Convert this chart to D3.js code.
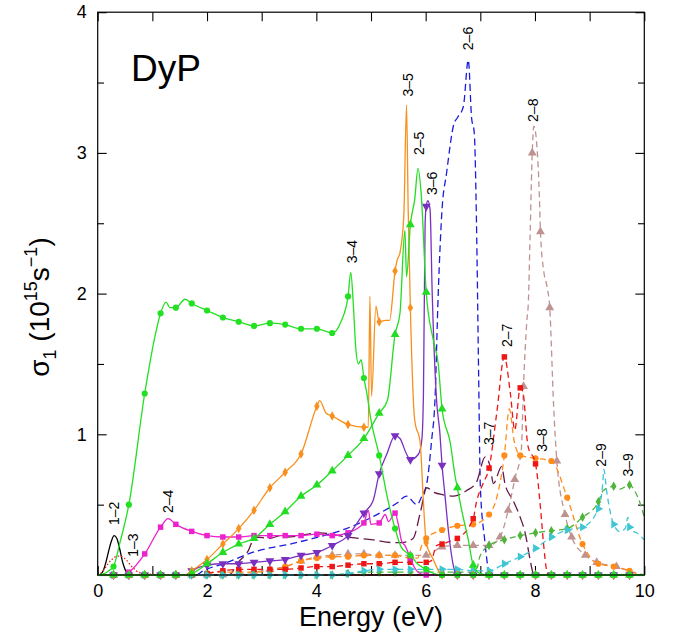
<!DOCTYPE html>
<html><head><meta charset="utf-8">
<script src="https://cdn.jsdelivr.net/npm/d3@7"></script>
<style>body{margin:0;background:#fff}svg{display:block}</style>
</head><body>
<svg id="chart" width="673" height="635"></svg>
<script>
// ---- DATA ----
// shared energy grid of the plotted symbols (eV)
const markX = [0.29,0.57,0.86,1.15,1.43,1.72,2.0,2.29,2.58,2.86,3.15,3.43,3.72,4.01,4.29,4.58,4.87,5.15,5.44,5.72,6.01,6.3,6.58,6.87,7.16,7.44,7.73,8.01,8.3,8.59,8.87,9.16,9.44,9.73];

// 1-2 (no symbols)
const s12_line = [[0,0],[0.05,0.005],[0.1,0.03],[0.15,0.09],[0.2,0.17],[0.25,0.24],[0.3,0.28],[0.35,0.26],[0.4,0.19],[0.45,0.10],[0.5,0.04],[0.55,0.01],[0.62,0],[10,0]];
// 1-3 (no symbols)
const s13_line = [[0,0],[0.05,0.01],[0.12,0.04],[0.19,0.08],[0.26,0.11],[0.33,0.13],[0.41,0.135],[0.47,0.125],[0.53,0.105],[0.58,0.08],[0.62,0.06],[0.68,0.04],[0.74,0.02],[0.85,0.01],[1.0,0.005],[1.3,0],[10,0]];
// 3-4
const s34_marks = [0.06,0.50,1.29,1.86,1.90,1.93,1.88,1.83,1.80,1.77,1.79,1.78,1.75,1.75,1.72,1.98,1.40,0.85,0.33,0.14,0.04,0,0,0,0,0,0,0,0,0,0,0,0,0];
const s34_line = [[0,0],[0.12,0.01],[0.2,0.03],[0.4,0.22],[1.05,1.70],[1.25,1.94],[1.32,1.90],[1.6,1.96],[4.45,1.80],[4.63,2.15],[4.68,1.90],[4.72,1.62],[4.77,1.50],[4.82,1.53],[4.92,1.30],[5.0,1.10],[5.3,0.55],[5.55,0.20],[5.65,0.16],[5.85,0.08],[6.15,0.01],[10,0]];
// 2-4
const s24_marks = [0,0.02,0.15,0.34,0.36,0.31,0.28,0.27,0.27,0.28,0.28,0.28,0.28,0.29,0.28,0.30,0.37,0.37,0.44,0.12,0,0,0,0,0,0,0,0,0,0,0,0,0,0];
const s24_line = [[0,0],[0.45,0],[1.29,0.40],[4.95,0.46],[5.0,0.36],[5.26,0.43],[5.32,0.38],[5.5,0.36],[5.56,0.24],[5.62,0.21],[5.8,0.05],[5.9,0.01],[10,0]];
// 3-5
const s35_marks = [0,0,0,0,0,0.03,0.11,0.22,0.33,0.46,0.62,0.73,0.86,1.20,1.13,1.07,1.05,1.80,2.16,1.90,0.23,0,0,0,0,0,0,0,0,0,0,0,0,0];
const s35_line = [[0,0],[1.6,0],[4.06,1.24],[4.18,1.15],[4.95,1.05],[4.98,1.98],[5.01,1.27],[5.09,1.91],[5.26,1.81],[5.34,1.81],[5.48,2.24],[5.53,2.29],[5.6,2.55],[5.65,3.34],[5.68,2.6],[5.8,1.10],[5.9,0.94],[5.96,0.51],[6.14,0.11],[6.22,0.04],[10,0]];
// 2-5
const s25_marks = [0,0,0,0,0,0.01,0.08,0.16,0.22,0.26,0.36,0.45,0.56,0.64,0.74,0.85,0.97,1.15,1.71,2.49,2.01,1.18,0.62,0.07,0,0,0,0,0,0,0,0,0,0];
const s25_line = [[0,0],[1.6,0],[5.3,1.24],[5.53,1.86],[5.62,2.45],[5.65,2.12],[5.8,2.67],[5.86,2.89],[5.92,2.7],[6.14,1.67],[6.23,1.50],[6.45,0.94],[6.54,0.70],[6.66,0.46],[6.78,0.25],[7.0,0.01],[10,0]];
// 3-6
const s36_marks = [0,0,0,0,0,0.03,0.07,0.08,0.08,0.09,0.10,0.11,0.14,0.16,0.21,0.28,0.44,0.72,0.99,0.82,2.62,0.78,0,0,0,0,0,0,0,0,0,0,0,0];
const s36_line = [[0,0],[1.6,0],[4.8,0.40],[5.04,0.53],[5.29,0.86],[5.53,0.97],[5.65,0.86],[5.87,0.86],[5.93,0.96],[5.96,1.30],[5.99,2.5],[6.04,2.66],[6.08,2.6],[6.12,2.0],[6.2,1.24],[6.26,1.01],[6.35,0.58],[6.42,0.30],[6.51,0.06],[6.56,0],[10,0]];
// 2-6 (no symbols)
const s26_line = [[0,0],[1.8,0],[1.93,0.03],[2.3,0.08],[2.91,0.17],[3.52,0.22],[3.94,0.26],[4.55,0.33],[5.16,0.44],[5.47,0.51],[5.65,0.56],[5.84,0.50],[5.93,0.56],[6.02,0.65],[6.11,0.96],[6.17,1.24],[6.23,2.0],[6.3,2.6],[6.38,2.85],[6.52,3.21],[6.58,3.25],[6.69,3.33],[6.78,3.66],[6.84,3.25],[6.89,3.14],[6.93,2.5],[6.97,1.4],[7.0,0.63],[7.08,0.25],[7.16,0.02],[7.2,0],[10,0]];
// 3-7 (no symbols)
const s37_line = [[0,0],[2.4,0],[2.57,0.09],[2.75,0.17],[2.88,0.27],[3.15,0.26],[3.34,0.28],[3.46,0.27],[4.07,0.30],[4.55,0.27],[5.04,0.25],[5.41,0.23],[5.56,0.23],[5.77,0.26],[5.90,0.44],[6.02,0.62],[6.14,0.59],[6.32,0.57],[6.51,0.56],[6.75,0.60],[6.93,0.66],[7.09,0.84],[7.18,0.77],[7.24,0.65],[7.39,0.77],[7.45,0.65],[7.60,0.53],[7.73,0.41],[7.82,0.30],[7.91,0.11],[7.96,0.02],[8.0,0],[10,0]];
// 2-7
const s27_marks = [0,0,0,0,0,0,0.01,0.03,0.04,0.04,0.04,0.04,0.05,0.06,0.06,0.07,0.08,0.08,0.09,0.09,0.09,0.22,0.26,0.40,0.76,1.55,1.33,0.79,0,0,0,0,0,0];
const s27_line = [[0,0],[1.9,0],[6.1,0.10],[6.2,0.21],[6.45,0.24],[6.93,0.52],[7.05,0.65],[7.3,1.15],[7.55,1.29],[7.63,1.03],[7.78,1.30],[7.87,0.92],[8.1,0.48],[8.15,0.25],[8.22,0.02],[8.25,0],[10,0]];
// 3-8
const s38_marks = [0,0,0,0,0,0,0.01,0.02,0.02,0.02,0.03,0.06,0.10,0.12,0.13,0.13,0.14,0.14,0.14,0.12,0.26,0.32,0.35,0.36,0.43,0.85,0.85,0.83,0.81,0.55,0.22,0.08,0.06,0.03];
const s38_line = [[0,0],[1.9,0],[5.85,0.12],[5.92,0.20],[7.3,0.55],[7.53,1.18],[7.62,0.95],[9.85,0.01],[10,0]];
// 2-8
const s28_marks = [0,0,0,0,0,0,0,0,0.01,0.02,0.04,0.06,0.10,0.13,0.14,0.15,0.15,0.14,0.14,0.14,0.14,0.20,0.21,0.21,0.21,null,null,null,null,null,null,null,null,null];
const s28_extraMarks = [[7.36,0.27],[7.51,0.46],[7.63,0.68],[7.79,1.34],[7.95,3.0],[8.10,2.44],[8.27,1.90],[8.40,0.81],[8.55,0.43],[8.67,0.27],[8.92,0.14],[9.13,0.09],[9.49,0.06]];
const s28_line = [[0,0],[2.3,0],[7.75,0.89],[7.85,1.8],[7.88,1.95],[7.91,2.4],[7.98,3.19],[8.04,3.02],[8.08,2.7],[8.16,2.16],[8.22,2.05],[8.34,1.21],[9.7,0.03],[9.9,0.01],[10,0]];
// 3-9
const s39_marks = [0,0,0,0,0,0,0,0,0,0,0,0,0,0,0,0.01,0.02,0.02,0.02,0.02,0.02,0.02,0.02,0.02,0.21,0.25,0.28,0.30,0.315,0.33,0.41,0.52,0.63,0.64];
const s39_line = [[0,0],[4.3,0],[6.95,0.06],[6.99,0.13],[9.25,0.60],[9.55,0.61],[9.82,0.60],[9.94,0.49],[10,0.41]];
// 2-9
const s29_marks = [0,0,0,0,0,0,0,0,0,0,0,0,0,0,0,0.01,0.03,0.04,0.04,0.04,0.04,0.04,0.04,0.03,0.03,0.08,0.13,0.19,0.27,0.32,0.34,0.47,0.36,0.34];
const s29_line = [[0,0],[4.3,0],[9.24,0.65],[9.26,0.75],[9.31,0.60],[9.55,0.31],[9.65,0.33],[9.70,0.41],[9.76,0.32],[9.86,0.30],[10,0.25]];

// transition labels (text, energy of label, sigma at label foot)
const labelText = ["1–2","1–3","2–4","3–4","3–5","2–5","3–6","2–6","2–7","3–7","3–8","2–8","2–9","3–9"];
const labelE    = [0.30,0.64,1.29,4.65,5.68,5.87,6.11,6.78,7.48,7.15,8.12,7.96,9.20,9.71];
const labelS    = [0.355,0.13,0.44,2.215,3.40,2.985,2.70,3.73,1.62,0.924,0.876,3.22,0.77,0.70];

const xTickValues = [0,1,2,3,4,5,6,7,8,9,10];
const yTickValues = [0,0.5,1,1.5,2,2.5,3,3.5,4];

// ---- CHART ----
const W = 673, H = 635;
const m = {left: 97.7, right: 28.7, top: 12.2, bottom: 60};
const FONT = "'Liberation Sans', Arial, Helvetica, sans-serif";
const svg = d3.select("#chart");
const x = d3.scaleLinear().domain([0,10]).range([m.left, W - m.right]);
const y = d3.scaleLinear().domain([0,4]).range([H - m.bottom, m.top]);

const tri = d3.symbolTriangle;
const series = [
  {line: s12_line, color: "#000000", dash: null},
  {line: s13_line, color: "#ee1c1c", dash: "1.5,2"},
  {line: s26_line, color: "#1c1cdc", dash: "7,4"},
  {line: s37_line, color: "#651846", dash: "11,5"},
  {line: s28_line, marks: s28_marks, extra: s28_extraMarks, color: "#bf9292", dash: "6,4", sym: tri, size: 34},
  {line: s38_line, marks: s38_marks, color: "#ff8c1a", dash: "6,4", sym: d3.symbolCircle, size: 30},
  {line: s27_line, marks: s27_marks, color: "#ee1515", dash: "6,4", sym: d3.symbolSquare, size: 30},
  {line: s39_line, marks: s39_marks, color: "#4fb43c", dash: "6,4", sym: d3.symbolDiamond, size: 26},
  {line: s29_line, marks: s29_marks, color: "#3ec6d4", dash: "6,4", sym: tri, size: 30, rot: 90},
  {line: s24_line, marks: s24_marks, color: "#ec22cc", dash: null, sym: d3.symbolSquare, size: 30},
  {line: s36_line, marks: s36_marks, color: "#7a2fc0", dash: null, sym: tri, size: 34, rot: 180},
  {line: s35_line, marks: s35_marks, color: "#f7901e", dash: null, sym: d3.symbolDiamond, size: 26},
  {line: s25_line, marks: s25_marks, color: "#22dd22", dash: null, sym: tri, size: 34},
  {line: s34_line, marks: s34_marks, color: "#22e022", dash: null, sym: d3.symbolCircle, size: 30}
];

const lineGen = d3.line().x(d => x(d[0])).y(d => y(d[1])).curve(d3.curveMonotoneX);

// axes (ticks inward)
const gL = svg.append("g").attr("transform", `translate(${m.left},0)`)
  .call(d3.axisLeft(y).tickValues(yTickValues).tickSize(-9).tickPadding(11)
    .tickFormat(d => (Number.isInteger(d) && d > 0) ? d : ""));
const gR = svg.append("g").attr("transform", `translate(${W - m.right},0)`)
  .call(d3.axisRight(y).tickValues(yTickValues).tickSize(-9).tickFormat(""));
const gB = svg.append("g").attr("transform", `translate(0,${H - m.bottom})`)
  .call(d3.axisBottom(x).tickValues(xTickValues).tickSize(-9).tickPadding(9)
    .tickFormat(d => d % 2 === 0 ? d : ""));
const gT = svg.append("g").attr("transform", `translate(0,${m.top})`)
  .call(d3.axisTop(x).tickValues(xTickValues).tickSize(-9).tickFormat(""));
[gL, gR].forEach(g => g.selectAll(".tick line")
  .attr("x2", function(d){ const s = +d3.select(this).attr("x2"); return Number.isInteger(d) ? s : s * 0.7; }));
[gL, gR, gB, gT].forEach(g => {
  g.select(".domain").remove();
  g.selectAll(".tick line").attr("stroke", "#000").attr("stroke-width", 1.1);
  g.selectAll("text").attr("font-family", FONT).attr("font-size", 18).attr("fill", "#000");
});

// series
const plot = svg.append("g");
series.forEach(s => {
  const markPts = [];
  if (s.marks) s.marks.forEach((v, i) => { if (v !== null) markPts.push([markX[i], v]); });
  if (s.extra) s.extra.forEach(p => markPts.push(p));
  const all = s.line.concat(markPts).sort((a, b) => a[0] - b[0]);
  const pts = [];
  all.forEach(p => { if (!pts.length || Math.abs(pts[pts.length-1][0] - p[0]) > 1e-6) pts.push(p); });
  plot.append("path").datum(pts)
    .attr("d", lineGen).attr("fill", "none")
    .attr("stroke", s.color).attr("stroke-width", 1.3)
    .attr("stroke-dasharray", s.dash);
  if (s.sym) {
    const sym = d3.symbol().type(s.sym).size(s.size);
    plot.append("g").selectAll("path").data(markPts).join("path")
      .attr("d", sym)
      .attr("transform", d => `translate(${x(d[0])},${y(d[1])}) rotate(${s.rot || 0})`)
      .attr("fill", s.color);
  }
});

// frame
svg.append("rect").attr("x", m.left).attr("y", m.top)
  .attr("width", W - m.left - m.right).attr("height", H - m.top - m.bottom)
  .attr("fill", "none").attr("stroke", "#000").attr("stroke-width", 1.2);

// transition labels
svg.append("g").selectAll("text").data(labelText).join("text")
  .attr("transform", (d, i) => `translate(${x(labelE[i]) + 5},${y(labelS[i])}) rotate(-90)`)
  .attr("font-family", FONT).attr("font-size", 14).attr("fill", "#000")
  .text(d => d);

// DyP
svg.append("text").attr("x", 131).attr("y", 81)
  .attr("font-family", FONT).attr("font-size", 37).attr("fill", "#000").text("DyP");

// axis titles
svg.append("text").attr("x", (m.left + W - m.right) / 2).attr("y", 626)
  .attr("text-anchor", "middle").attr("font-family", FONT).attr("font-size", 27)
  .attr("fill", "#000").text("Energy (eV)");

const yl = svg.append("text").attr("transform", "translate(49,307) rotate(-90)")
  .attr("text-anchor", "middle").attr("font-family", FONT).attr("font-size", 28).attr("fill", "#000");
yl.append("tspan").text("σ");
yl.append("tspan").attr("font-size", 18).attr("dy", 7).text("1");
yl.append("tspan").attr("dy", -7).text(" (10");
yl.append("tspan").attr("font-size", 18).attr("dy", -12).text("15");
yl.append("tspan").attr("dy", 12).text("s");
yl.append("tspan").attr("font-size", 18).attr("dy", -12).text("−1");
yl.append("tspan").attr("dy", 12).text(")");
</script>
</body></html>
